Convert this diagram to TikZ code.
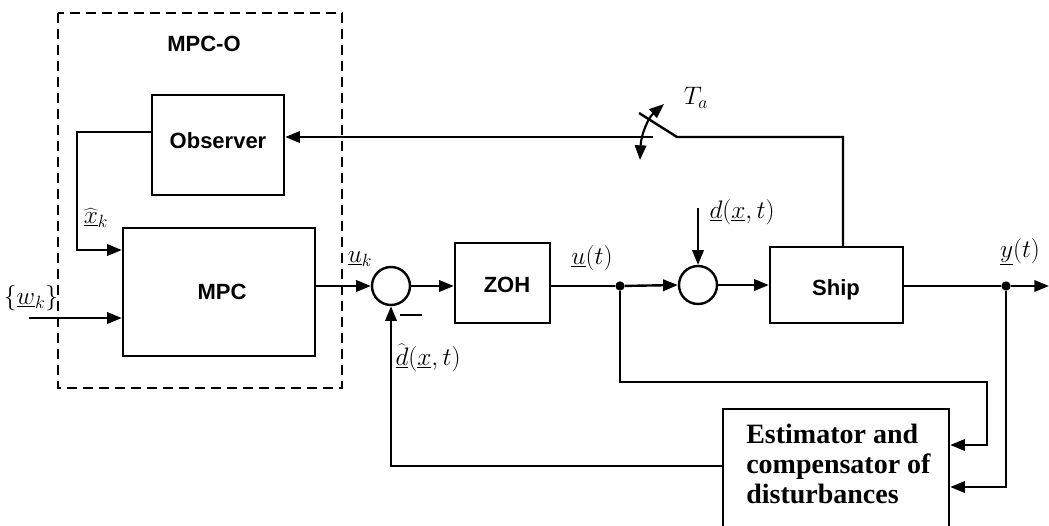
\RequirePackage{fix-cm}
\documentclass[tikz,border=0pt]{standalone}
\usepackage{fontspec}
\newfontfamily\sansb{Liberation Sans}
\newfontfamily\serifb{Liberation Serif}
\usetikzlibrary{arrows.meta,calc}
\begin{document}
\begin{tikzpicture}[x=0.75pt,y=-0.75pt,
  ln/.style={line width=1.8pt},
  arr/.style={line width=1.8pt,-{Triangle[length=11pt,width=8.5pt]}},
  blk/.style={draw,line width=1.8pt,rectangle,inner sep=0pt},
  sftxt/.style={inner sep=0pt,font=\sansb\bfseries\fontsize{16.5}{19}\selectfont},
  sumc/.style={draw,circle,line width=1.8pt,minimum size=28.5pt,inner sep=0pt},
  dot/.style={circle,fill,minimum size=7pt,inner sep=0pt},
  lbl/.style={inner sep=0pt,font=\fontsize{19}{21}\selectfont}]
\useasboundingbox (0,0) rectangle (1049,525);
\clip (0,0) rectangle (1049,525);
\fill[white] (0,0) rectangle (1049,525);

% dashed MPC-O frame
\draw[line width=0.9pt,dash pattern=on 7.5pt off 4.5pt] (58,13) rectangle (342,388);
\node[sftxt] (mpco) at (204,44) {MPC-O};

% blocks
\node[blk,minimum width=99pt,minimum height=75pt] (obs) at (218,145) {};
\node[sftxt] (obstxt) at (218,141) {Observer};
\node[blk,minimum width=144pt,minimum height=96pt] (mpc) at (219,292) {};
\node[sftxt] (mpctxt) at (222,292) {MPC};
\node[blk,minimum width=71.25pt,minimum height=60pt] (zoh) at (502.5,283) {};
\node[sftxt] (zohtxt) at (507,285) {ZOH};
\node[blk,minimum width=99.75pt,minimum height=57pt] (ship) at (836.5,285) {};
\node[sftxt] (shiptxt) at (836,290) {Ship};
\node[blk,minimum width=169.5pt,minimum height=102pt] (est) at (836,477) {};
\node[anchor=north west,inner sep=0pt,align=left,
  font=\serifb\bfseries\fontsize{21}{22.5}\selectfont] (esttext) at (746,424)
  {Estimator and\\compensator of\\disturbances};

% summing junctions and dots
\node[sumc] (s1) at (391,286) {};
\node[sumc] (s2) at (698,285) {};
\node[dot] (j1) at (620,286) {};
\node[dot] (j2) at (1006,286) {};

% free ends / bends
\coordinate (win) at (29,318);
\coordinate (din) at (698,208);
\coordinate (yout) at (1049,286);
\coordinate (xb) at (77,132);
\coordinate (shipup) at (843,137);
\coordinate (swR) at (677,137);
\coordinate (swT) at (639,113);
\coordinate (swL) at (653,137);
\coordinate (arcA) at (640,160);
\coordinate (arcB) at (664,104);
\coordinate (fb1) at (987,382);

% connectors
\draw[arr] (obs.west |- xb) -- (xb) |- (mpc.west |- 0,250);
\draw[arr] (win) -- (mpc.west |- win);
\draw[arr] (mpc.east |- s1) -- (s1.west);
\draw[arr] (s1.east) -- (zoh.west |- s1);
\draw[ln] (zoh.east |- j1) -- (j1);
\draw[arr] (j1) -- (s2.west);
\draw[arr] (din) -- (s2.north);
\draw[arr] (s2.east) -- (ship.west |- s2);
\draw[ln] (ship.east |- j2) -- (j2);
\draw[arr] (j2) -- (yout);
\draw[ln] (ship.north -| shipup) -- (shipup) -- (swR) -- (swT);
\draw[arr] (swL) -- (obs.east |- swL);
\draw[line width=1.6pt,{Triangle[length=11pt,width=8.5pt]}-{Triangle[length=11pt,width=8.5pt]}]
  (arcA) .. controls (641,135) and (648,118) .. (arcB);
\draw[arr] (j1) |- (fb1) |- (est.east |- 0,445);
\draw[arr] (j2) |- (est.east |- 0,487);
\draw[arr] (est.west |- 0,466) -| (s1.south);
\draw[line width=1.6pt] (400,315) -- (422,315);

% labels
\node[lbl] (xhat) at (96,218) {$\widehat{\underline{x}}_k$};
\node[lbl] (wk) at (31,298) {$\{\underline{w}_k\}$};
\node[lbl] (uk) at (360,259) {$\underline{u}_k$};
\node[lbl] (ut) at (592,258) {$\underline{u}(t)$};
\node[lbl] (dxt) at (742,212) {$\underline{d}(\underline{x},t)$};
\node[lbl] (dhat) at (428,358) {$\widehat{\underline{d}}(\underline{x},t)$};
\node[lbl] (yt) at (1020,252) {$\underline{y}(t)$};
\node[lbl] (ta) at (696,98) {$T_a$};
\end{tikzpicture}
\end{document}
